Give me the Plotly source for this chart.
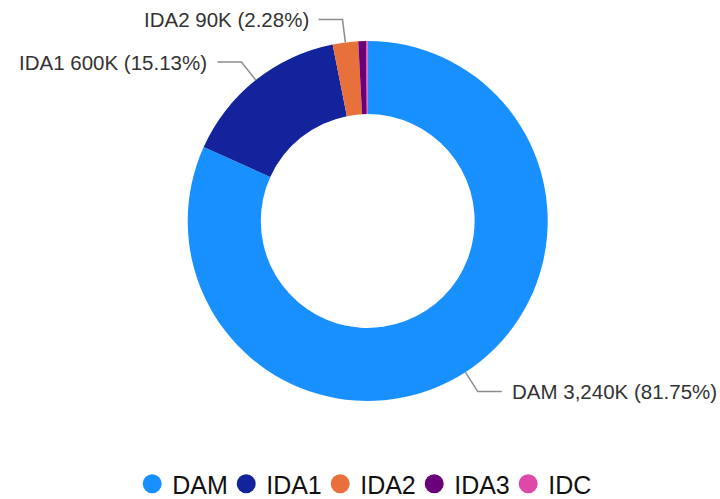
import math
import plotly.graph_objects as go

# ---- data ----
categories = ["DAM", "IDA1", "IDA2", "IDA3", "IDC"]
values_k = [3240, 599.6, 90.4, 28, 5.3]
colors = ["#1890FF", "#13239C", "#E8703A", "#6B007B", "#E048A8"]

W, H = 720, 499
dom_x = [0.2607, 0.7607]
dom_y = [0.1964, 0.9178]
hole = 0.594

fig = go.Figure()
fig.add_trace(go.Pie(
    labels=categories, values=values_k, sort=False, direction="clockwise",
    rotation=0, hole=hole, marker=dict(colors=colors, line=dict(width=0)),
    textinfo="none", hoverinfo="skip", showlegend=False,
    domain=dict(x=dom_x, y=dom_y),
))

# legend entries with circular markers
for name, col in zip(categories, colors):
    fig.add_trace(go.Scatter(x=[None], y=[None], mode="markers", name=name,
                             marker=dict(color=col, size=16, symbol="circle",
                                         line=dict(color=col, width=3)),
                             hoverinfo="skip"))

# ---- labels with leader lines, derived from the data ----
total = sum(values_k)
cx = W * (dom_x[0] + dom_x[1]) / 2
cy = H * (1 - (dom_y[0] + dom_y[1]) / 2)
r = min(W * (dom_x[1] - dom_x[0]), H * (dom_y[1] - dom_y[0])) / 2
L1, L2, gap = 23, 24, 8

def px2paper(x, y):
    return x / W, 1 - y / H

shapes, annotations = [], []
cum = 0.0
for name, v in zip(categories, values_k):
    frac = v / total
    mid = (cum + frac / 2) * 2 * math.pi
    cum += frac
    if frac < 0.01:
        continue
    s, c = math.sin(mid), math.cos(mid)
    p0 = (cx + r * s, cy - r * c)
    p1 = (cx + (r + L1) * s, cy - (r + L1) * c)
    side = 1 if s >= 0 else -1
    p2 = (p1[0] + side * L2, p1[1])
    pts = [px2paper(*p) for p in (p0, p1, p2)]
    path = "M {},{} L {},{} L {},{}".format(pts[0][0], pts[0][1], pts[1][0], pts[1][1], pts[2][0], pts[2][1])
    shapes.append(dict(type="path", path=path, xref="paper", yref="paper",
                       line=dict(color="#8c8c8c", width=1.5)))
    tx, ty = px2paper(p2[0] + side * gap, p2[1])
    label = "{} {:,.0f}K ({:.2f}%)".format(name, v, frac * 100)
    annotations.append(dict(x=tx, y=ty, xref="paper", yref="paper", text=label,
                            showarrow=False, xanchor="left" if side > 0 else "right",
                            yanchor="middle", font=dict(size=20.5, color="#333333")))

fig.update_layout(
    width=W, height=H,
    margin=dict(l=0, r=0, t=0, b=0, autoexpand=False),
    paper_bgcolor="white", plot_bgcolor="white",
    font=dict(family="Arial, Liberation Sans, sans-serif", color="#333333"),
    xaxis=dict(visible=False), yaxis=dict(visible=False),
    showlegend=True,
    legend=dict(orientation="h", x=0.51, xanchor="center", y=0.03, yanchor="middle",
                font=dict(size=25, color="#111111"), itemsizing="trace",
                entrywidth=49, bgcolor="rgba(0,0,0,0)"),
    shapes=shapes, annotations=annotations,
)

fig.write_html("out.html", config={"displayModeBar": False},
               post_script="document.body.style.margin='0';")
